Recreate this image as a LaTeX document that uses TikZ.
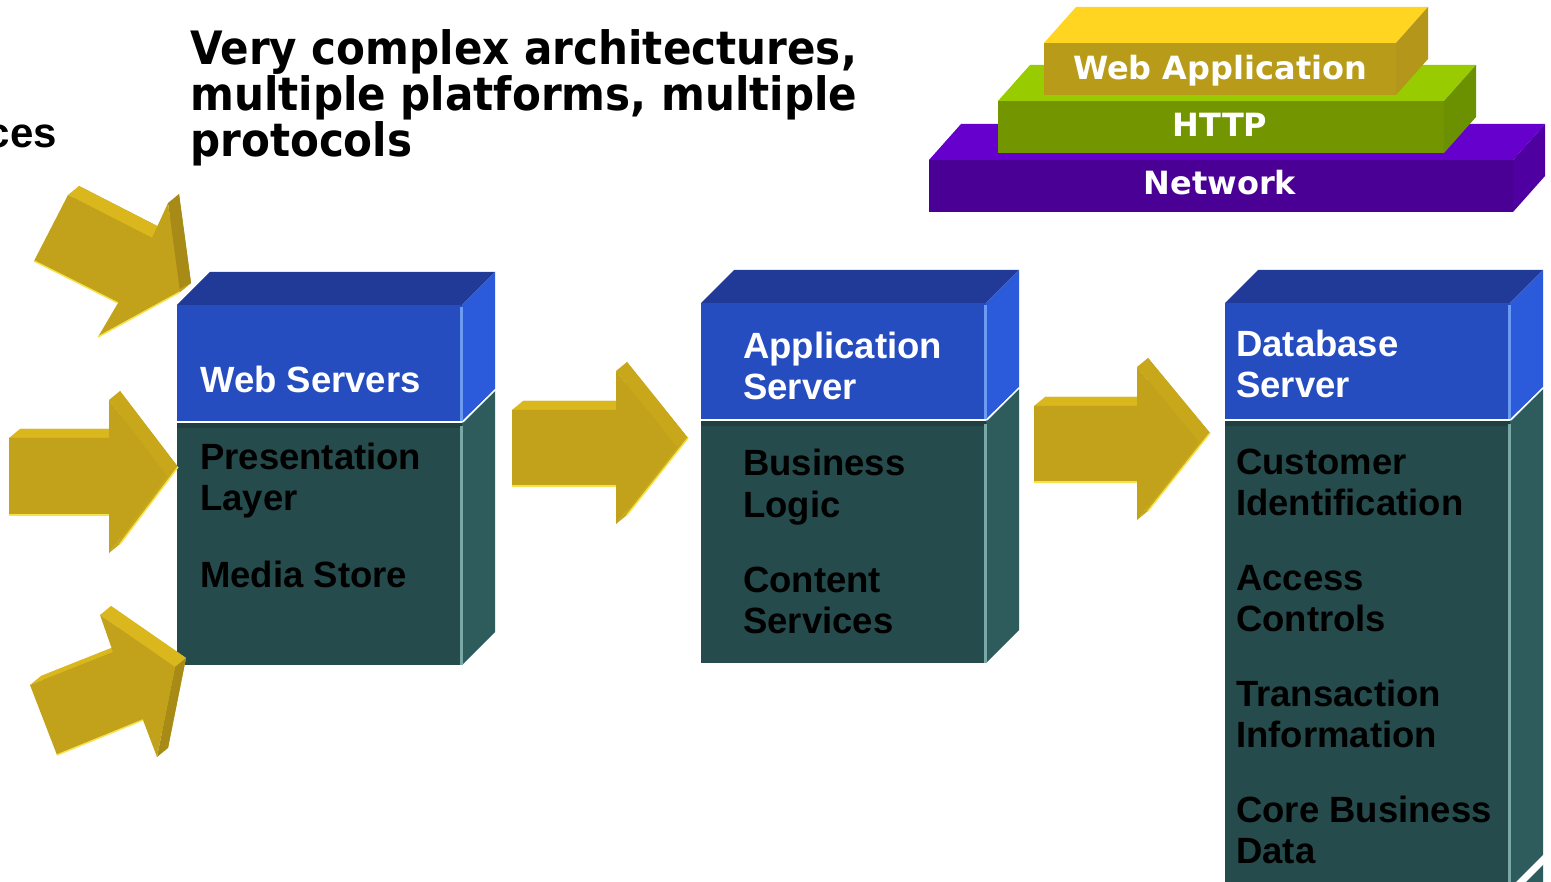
\documentclass[tikz,border=0pt]{standalone}
\usepackage{fontspec}
\setmainfont{Liberation Sans}
\newfontfamily\widesans{DejaVu Sans}
\newfontfamily\titlefont[FakeStretch=0.915]{DejaVu Sans}

% block colours
\definecolor{blueTop}{HTML}{213A97}
\definecolor{blueFront}{HTML}{264DBF}
\definecolor{blueSide}{HTML}{2B5BDA}
\definecolor{blueHi}{HTML}{6C9CF2}
\definecolor{tealFront}{HTML}{254B4C}
\definecolor{tealBand}{HTML}{1F3F40}
\definecolor{tealSide}{HTML}{2E5B5B}
\definecolor{tealHi}{HTML}{7AA8A6}
% arrow colours
\definecolor{goldFront}{HTML}{C1A21A}
\definecolor{goldTop}{HTML}{DBB71E}
\definecolor{goldSide}{HTML}{C8A71B}
\definecolor{goldDark}{HTML}{A88B16}
\definecolor{goldShine}{HTML}{F7E24A}
% protocol stack colours
\definecolor{appFront}{HTML}{B89B18}
\definecolor{appTop}{HTML}{FFD521}
\definecolor{appSide}{HTML}{B3961A}
\definecolor{httpFront}{HTML}{739600}
\definecolor{httpTop}{HTML}{99CC00}
\definecolor{httpSide}{HTML}{6B9000}
\definecolor{netFront}{HTML}{4A0095}
\definecolor{netTop}{HTML}{6600CC}
\definecolor{netSide}{HTML}{4F00A0}

\tikzset{
  boxtext/.style={anchor=base west, inner sep=0pt, align=left,
    font=\bfseries\fontsize{36.5}{41}\selectfont},
  headtext/.style={boxtext, text=white},
  bodytext/.style={boxtext, text=black},
  slabtext/.style={anchor=base, inner sep=0pt, text=white,
    font=\widesans\bfseries\fontsize{32}{36}\selectfont},
  shine/.style={goldShine, line width=1.5pt},
}

% three-dimensional slab of the protocol stack: left x, right x, top y, colours
\newcommand\slab[6]{%
  \fill[#5] (#1,#3) -- ({#1+32},{#3-36}) -- ({#2+32},{#3-36}) -- (#2,#3) -- cycle;
  \fill[#6] (#2,#3) -- ({#2+32},{#3-36}) -- ({#2+32},{#3+16}) -- (#2,{#3+52}) -- cycle;
  \fill[#4] (#1,#3) rectangle (#2,{#3+52});
}

% server block: blue head box over a teal body box; left x, top y, bottom y
\newcommand\serverbox[3]{%
  \fill[tealSide] ({#1+285},{#2+118}) -- ({#1+318},{#2+86}) -- ({#1+318},{#3-33}) -- ({#1+285},{#3}) -- cycle;
  \fill[tealFront] (#1,{#2+118}) rectangle ({#1+285},#3);
  \fill[tealBand] (#1,{#2+118}) rectangle ({#1+285},{#2+123});
  \fill[tealHi] ({#1+283},{#2+121}) rectangle ({#1+286},#3);
  \fill[blueTop] (#1,#2) -- ({#1+33},{#2-33}) -- ({#1+318},{#2-33}) -- ({#1+285},#2) -- cycle;
  \fill[blueSide] ({#1+285},#2) -- ({#1+318},{#2-33}) -- ({#1+318},{#2+84}) -- ({#1+285},{#2+116}) -- cycle;
  \fill[blueFront] (#1,#2) rectangle ({#1+285},{#2+116});
  \fill[blueHi] ({#1+283},{#2+2}) rectangle ({#1+286},{#2+116});
  \draw[white, line width=1.2pt] ({#1+286},{#2+117}) -- ({#1+318},{#2+85});
}

% extruded block arrow: points A..G of the front face, colour of face D-E, colour of face E-F
\newcommand\goldarrow[9]{%
  \coordinate (gA) at #1; \coordinate (gB) at #2; \coordinate (gC) at #3;
  \coordinate (gD) at #4; \coordinate (gE) at #5; \coordinate (gF) at #6;
  \coordinate (gG) at #7;
  \foreach \p in {A,B,C,D,E,F,G}{\coordinate (g\p d) at ([shift={(11,-9)}]g\p);}
  \fill[#8] (gAd) -- (gBd) -- (gCd) -- (gDd) -- (gEd) -- (gFd) -- (gGd) -- cycle;
  \fill[goldTop] (gB) -- (gC) -- (gCd) -- (gBd) -- cycle;
  \fill[#8] (gD) -- (gE) -- (gEd) -- (gDd) -- cycle;
  \fill[#9] (gE) -- (gF) -- (gFd) -- (gEd) -- cycle;
  \fill[goldFront] (gA) -- (gB) -- (gC) -- (gD) -- (gE) -- (gF) -- (gG) -- cycle;
  \draw[shine] (gA) -- (gG);
}

\begin{document}
\begin{tikzpicture}[x=1pt, y=-1pt]
\useasboundingbox (0,0) rectangle (1551,882);
\fill[white] (0,0) rectangle (1551,882);

% heading
\node[anchor=base east, inner sep=0pt, font=\bfseries\fontsize{42}{46}\selectfont] (cut) at (57,148) {ces};
\node[anchor=base west, inner sep=0pt, align=left,
      font=\titlefont\bfseries\fontsize{46}{46}\selectfont] (title) at (190,157)
  {Very complex architectures,\\multiple platforms, multiple\\protocols};

% protocol stack
\slab{929}{1513}{160}{netFront}{netTop}{netSide}
\slab{998}{1444}{101}{httpFront}{httpTop}{httpSide}
\slab{1044}{1396}{43}{appFront}{appTop}{appSide}
\node[slabtext] (webapp) at (1220,80) {Web Application};
\node[slabtext] (http) at (1220,137) {HTTP};
\node[slabtext] (network) at (1220,195) {Network};

% server blocks
\serverbox{177}{305}{665}
\serverbox{701}{303}{663}
\serverbox{1225}{303}{940}
\draw[white, line width=7pt] (1517,886) -- (1556,847);

% block labels (anchored on the baseline of their last line)
\node[headtext] (websrv) at (200,393) {Web Servers};
\node[bodytext] (pres) at (200,511) {Presentation\\Layer};
\node[bodytext] (media) at (200,587) {Media Store};

\node[headtext] (appsrv) at (743,400) {Application\\Server};
\node[bodytext] (logic) at (743,517) {Business\\Logic};
\node[bodytext] (content) at (743,633) {Content\\Services};

\node[headtext] (dbsrv) at (1236,398) {Database\\Server};
\node[bodytext] (cust) at (1236,515) {Customer\\Identification};
\node[bodytext] (access) at (1236,631) {Access\\Controls};
\node[bodytext] (trans) at (1236,747) {Transaction\\Information};
\node[bodytext] (core) at (1236,863) {Core Business\\Data};

% incoming arrows
\goldarrow{(34,261)}{(68,195)}{(152,238)}{(168,203)}{(180,292)}{(98,337)}{(118,303)}{goldDark}{goldFront}
\draw[shine] (gE) -- (gF);
\goldarrow{(9,515)}{(9,438)}{(109,438)}{(109,400)}{(167,476)}{(109,553)}{(109,515)}{goldSide}{goldSide}
\draw[shine] (gEd) -- (gFd);
\goldarrow{(57,755)}{(30,685)}{(113,652)}{(100,615)}{(175,667)}{(157,757)}{(143,720)}{goldTop}{goldDark}

% arrows between tiers
\goldarrow{(512,486)}{(512,410)}{(616,410)}{(616,371)}{(677,447)}{(616,524)}{(616,486)}{goldSide}{goldSide}
\draw[shine] (gEd) -- (gFd);
\goldarrow{(1034,482)}{(1034,406)}{(1137,406)}{(1137,367)}{(1199,442)}{(1137,520)}{(1137,482)}{goldSide}{goldSide}
\draw[shine] (gEd) -- (gFd);
\end{tikzpicture}
\end{document}
